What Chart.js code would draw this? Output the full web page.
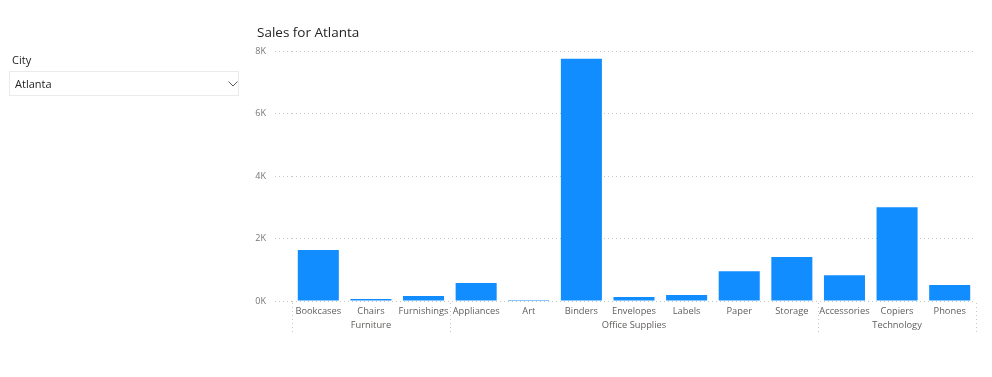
<!DOCTYPE html>
<html>
<head>
<meta charset="utf-8">
<script src="https://cdn.jsdelivr.net/npm/chart.js@4.4.1/dist/chart.umd.min.js"></script>
<style>
  html, body { margin: 0; padding: 0; background: #fff; }
  body { width: 992px; height: 377px; position: relative; overflow: hidden; font-family: "Open Sans", "Noto Sans", sans-serif; }
  #wrap { position: absolute; left: 0; top: 0; width: 992px; height: 377px; }
  #title { position: absolute; left: 257px; top: 23px; font-size: 13.5px; color: #252423; white-space: nowrap; }
  #slicerLabel { position: absolute; left: 12px; top: 52px; font-size: 11px; color: #252423; }
  #slicerBox { position: absolute; left: 9px; top: 71px; width: 228px; height: 23px; border: 1px solid #ebebeb; box-sizing: content-box; }
  #slicerValue { position: absolute; left: 5px; top: 4px; font-size: 11px; color: #252423; }
  #chev { position: absolute; left: 218px; top: 9px; }
</style>
</head>
<body>
<div id="wrap"><canvas id="c" width="992" height="377"></canvas></div>
<div id="title">Sales for Atlanta</div>
<div id="slicerLabel">City</div>
<div id="slicerBox"><span id="slicerValue">Atlanta</span>
  <svg id="chev" width="10" height="6" viewBox="0 0 10 6"><polyline points="0.5,0.5 5,5 9.5,0.5" fill="none" stroke="#605e5c" stroke-width="1"/></svg>
</div>
<script>
const categories = ['Bookcases','Chairs','Furnishings','Appliances','Art','Binders','Envelopes','Labels','Paper','Storage','Accessories','Copiers','Phones'];
const categoryGroups = ['Furniture','Furniture','Furniture','Office Supplies','Office Supplies','Office Supplies','Office Supplies','Office Supplies','Office Supplies','Office Supplies','Technology','Technology','Technology'];
const sales = [1630, 65, 160, 577, 30, 7756, 128, 190, 950, 1410, 825, 3003, 510];
const groupNames = ['Furniture','Office Supplies','Technology'];
const yTicks = [0, 2000, 4000, 6000, 8000];

const FONT = '"Open Sans", "Noto Sans", sans-serif';
const gridColor = '#c8c6c4';

const groupPlugin = {
  id: 'groups',
  afterDraw(chart) {
    const ctx = chart.ctx;
    const xs = chart.scales.x;
    const step = xs.getPixelForValue(1) - xs.getPixelForValue(0);
    ctx.save();
    ctx.font = '9.3px ' + FONT;
    ctx.fillStyle = '#605e5c';
    ctx.textAlign = 'center';
    ctx.textBaseline = 'middle';
    const bounds = [];
    groupNames.forEach(g => {
      const idx = categories.map((c, i) => i).filter(i => categoryGroups[i] === g);
      const first = Math.min(...idx), last = Math.max(...idx);
      const x0 = xs.getPixelForValue(first) - step / 2;
      const x1 = xs.getPixelForValue(last) + step / 2;
      ctx.fillText(g, (x0 + x1) / 2, 325);
      bounds.push(x0, x1);
    });
    const uniq = [...new Set(bounds.map(b => Math.round(b)))];
    ctx.strokeStyle = gridColor;
    ctx.lineWidth = 1;
    ctx.setLineDash([1, 3]);
    uniq.forEach(b => {
      ctx.beginPath();
      ctx.moveTo(b + 0.5, 303);
      ctx.lineTo(b + 0.5, 334);
      ctx.stroke();
    });
    ctx.restore();
  }
};

new Chart(document.getElementById('c'), {
  type: 'bar',
  data: {
    labels: categories,
    datasets: [{
      data: sales,
      backgroundColor: '#118dff',
      borderWidth: 0,
      categoryPercentage: 1,
      barPercentage: 0.78
    }]
  },
  options: {
    responsive: false,
    animation: false,
    events: [],
    layout: { padding: { left: 240, right: 16, top: 51, bottom: 0 } },
    plugins: { legend: { display: false }, tooltip: { enabled: false }, title: { display: false } },
    scales: {
      x: {
        grid: { display: false, drawTicks: false },
        border: { display: false },
        ticks: { font: { family: FONT, size: 9.3 }, color: '#605e5c', padding: 5, maxRotation: 0, autoSkip: false },
        afterFit(s) { s.height = 76; }
      },
      y: {
        min: 0, max: 8000,
        afterBuildTicks(s) { s.ticks = yTicks.map(v => ({ value: v })); },
        grid: { color: gridColor, tickLength: 17, tickBorderDash: [1, 3], drawTicks: true },
        border: { display: false, dash: [1, 3] },
        ticks: { font: { family: FONT, size: 9 }, color: '#777777', padding: 9, callback: v => (v / 1000) + 'K' },
        afterFit(s) { s.width = 52; }
      }
    }
  },
  plugins: [groupPlugin]
});
</script>
</body>
</html>
